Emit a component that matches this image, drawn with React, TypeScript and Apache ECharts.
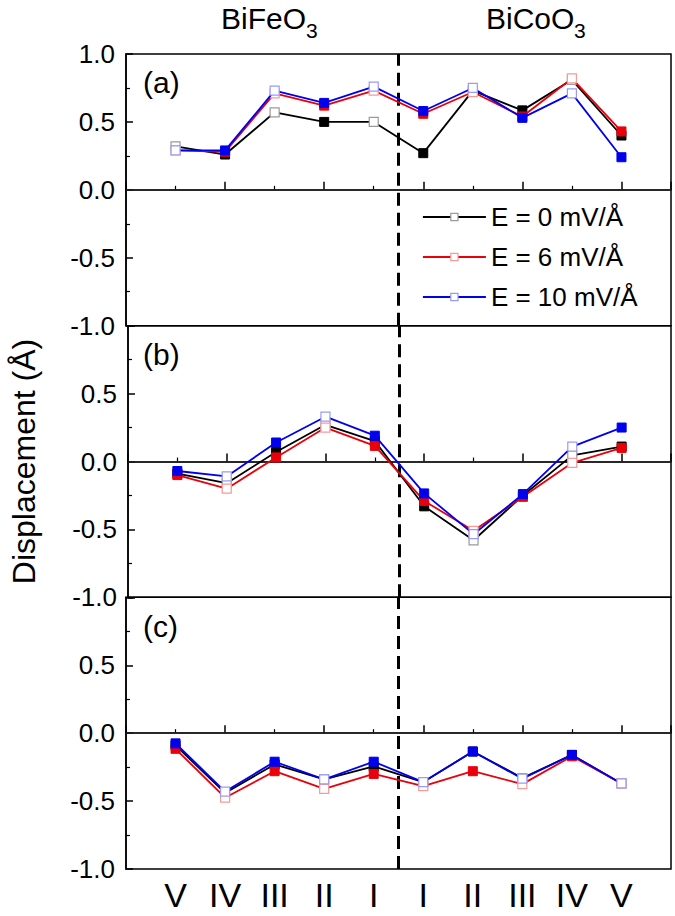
import React, { useEffect, useRef } from "react";
import * as echarts from "echarts";

const xPos = [1, 2, 3, 4, 5, 6, 7, 8, 9, 10];
const xLabels = ["V", "IV", "III", "II", "I", "I", "II", "III", "IV", "V"];
const seriesNames = ["E = 0 mV/Å", "E = 6 mV/Å", "E = 10 mV/Å"];

const aBlack = [0.32, 0.26, 0.57, 0.5, 0.5, 0.27, 0.73, 0.585, 0.81, 0.4];
const aRed = [0.29, 0.28, 0.71, 0.62, 0.73, 0.56, 0.72, 0.54, 0.82, 0.43];
const aBlue = [0.29, 0.29, 0.73, 0.64, 0.76, 0.58, 0.75, 0.53, 0.71, 0.24];

const bBlack = [-0.09, -0.16, 0.07, 0.27, 0.15, -0.33, -0.58, -0.25, 0.045, 0.11];
const bRed = [-0.1, -0.2, 0.03, 0.25, 0.115, -0.29, -0.51, -0.26, -0.01, 0.1];
const bBlue = [-0.07, -0.11, 0.14, 0.33, 0.19, -0.235, -0.535, -0.24, 0.11, 0.25];

const cBlack = [-0.09, -0.44, -0.23, -0.34, -0.245, -0.36, -0.135, -0.33, -0.16, -0.37];
const cRed = [-0.115, -0.475, -0.28, -0.41, -0.3, -0.39, -0.28, -0.375, -0.17, -0.37];
const cBlue = [-0.075, -0.43, -0.21, -0.34, -0.21, -0.36, -0.135, -0.335, -0.16, -0.37];

// 1 = filled marker, 0 = open marker
const aFilled = [0, 1, 0, 1, 0, 1, 0, 1, 0, 1];
const bFilled = [1, 0, 1, 0, 1, 1, 0, 1, 0, 1];
const cFilled = [1, 0, 1, 0, 1, 0, 1, 0, 1, 0];

const FONT = "'Liberation Sans', Arial, sans-serif";
const colors = ["#000000", "#e8000b", "#0000ee"];
const lightColors = ["#9a9a9a", "#f59a9a", "#9a9af5"];

export default function App() {
  const ref = useRef<HTMLDivElement>(null);
  useEffect(() => {
    if (!ref.current) return;
    const chart = echarts.init(ref.current, null, { renderer: "svg" });

    const panels = [
      { data: [aBlack, aRed, aBlue], filled: aFilled },
      { data: [bBlack, bRed, bBlue], filled: bFilled },
      { data: [cBlack, cRed, cBlue], filled: cFilled },
    ];
    const top0 = 54;
    const ph = 271.67;

    const grids = panels.map((_, i) => ({
      left: 126,
      width: 545,
      top: top0 + i * ph,
      height: ph,
      show: true,
      borderColor: "#000",
      borderWidth: 1.5,
      backgroundColor: "transparent",
    }));

    const xAxes = panels.map((_, i) => ({
      type: "value",
      gridIndex: i,
      min: 0,
      max: 11,
      interval: 2,
      axisLine: { show: true, lineStyle: { color: "#000", width: 1.5 } },
      axisTick: { show: true, inside: true, length: 8, lineStyle: { color: "#000", width: 1.5 } },
      minorTick: { show: true, splitNumber: 2, length: 4, lineStyle: { color: "#000", width: 1.2 } },
      splitLine: { show: false },
      minorSplitLine: { show: false },
      axisLabel:
        i === 2
          ? {
              show: true,
              customValues: xPos,
              formatter: (v: number) => xLabels[Math.round(v) - 1] ?? "",
              fontSize: 34,
              lineHeight: 34,
              color: "#000",
              fontFamily: FONT,
              margin: 9,
            }
          : { show: false },
    }));

    const yAxes = panels.map((_, i) => ({
      type: "value",
      gridIndex: i,
      min: -1,
      max: 1,
      interval: 0.5,
      axisLine: { show: true, lineStyle: { color: "#000", width: 1.5 } },
      axisTick: { show: true, inside: true, length: 7, lineStyle: { color: "#000", width: 1.5 } },
      minorTick: { show: true, splitNumber: 2, length: 4, lineStyle: { color: "#000", width: 1.2 } },
      splitLine: { show: false },
      axisLabel: {
        show: true,
        fontSize: 26,
        color: "#000",
        fontFamily: FONT,
        margin: 11,
        showMaxLabel: i === 0,
        formatter: (v: number) => v.toFixed(1),
      },
      name: i === 1 ? "Displacement (Å)" : "",
      nameLocation: "middle",
      nameGap: 88,
      nameTextStyle: { fontSize: 32, color: "#000", fontFamily: FONT },
    }));

    const series: any[] = [];
    panels.forEach((p, pi) => {
      p.data.forEach((vals, si) => {
        const s: any = {
          type: "line",
          name: seriesNames[si],
          xAxisIndex: pi,
          yAxisIndex: pi,
          symbol: "rect",
          symbolSize: 9,
          lineStyle: { color: colors[si], width: 1.8 },
          itemStyle: { color: colors[si] },
          data: xPos.map((x, k) => ({
            value: [x, vals[k]],
            itemStyle: p.filled[k]
              ? { color: colors[si], borderColor: colors[si], borderWidth: 1 }
              : { color: "#ffffff", borderColor: lightColors[si], borderWidth: 1.2 },
          })),
          z: 3 + si,
        };
        if (si === 0) {
          s.markLine = {
            silent: true,
            symbol: ["none", "none"],
            label: { show: false },
            z: 2,
            data: [
              { yAxis: 0, lineStyle: { color: "#222", width: 1.5, type: "solid" } },
              { xAxis: 5.5, lineStyle: { color: "#000", width: 3, type: [13, 7] } },
            ],
          };
        }
        series.push(s);
      });
    });

    const option: any = {
      animation: false,
      backgroundColor: "#fff",
      textStyle: { fontFamily: FONT },
      grid: grids,
      xAxis: xAxes,
      yAxis: yAxes,
      legend: {
        orient: "vertical",
        left: 417,
        top: 199,
        itemWidth: 63,
        itemHeight: 9,
        itemGap: 14,
        textStyle: { fontSize: 26, color: "#000", fontFamily: FONT },
        data: seriesNames.map((n, i) => ({
          name: n,
          itemStyle: { color: "#fff", borderColor: lightColors[i], borderWidth: 1.2 },
          lineStyle: { color: colors[i], width: 1.8 },
        })),
      },
      graphic: [
        { type: "text", left: 143, top: 67, style: { text: "(a)", fontSize: 30, fill: "#000", fontFamily: FONT } },
        { type: "text", left: 143, top: 339, style: { text: "(b)", fontSize: 30, fill: "#000", fontFamily: FONT } },
        { type: "text", left: 143, top: 611, style: { text: "(c)", fontSize: 30, fill: "#000", fontFamily: FONT } },
        { type: "text", left: 221, top: 3, style: { text: "BiFeO", fontSize: 30, fill: "#000", fontFamily: FONT } },
        { type: "text", left: 306, top: 20, style: { text: "3", fontSize: 21, fill: "#000", fontFamily: FONT } },
        { type: "text", left: 486, top: 3, style: { text: "BiCoO", fontSize: 30, fill: "#000", fontFamily: FONT } },
        { type: "text", left: 574, top: 20, style: { text: "3", fontSize: 21, fill: "#000", fontFamily: FONT } },
      ],
      series,
    };
    chart.setOption(option);
    return () => chart.dispose();
  }, []);
  return (
    <div
      ref={ref}
      style={{ position: "fixed", left: 0, top: 0, width: 675, height: 916, background: "#fff" }}
    />
  );
}
